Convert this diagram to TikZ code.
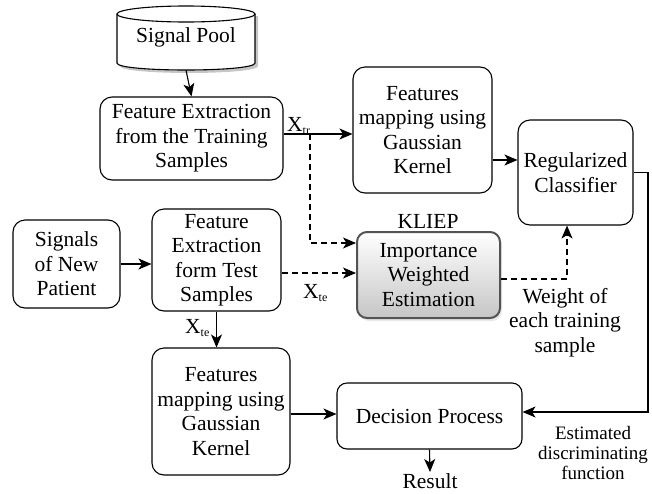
\documentclass[tikz,border=0pt]{standalone}
\usepackage{fontspec}
\setmainfont{Liberation Serif}
\usetikzlibrary{arrows.meta,shadows,calc}

\newcommand{\subx}[1]{X\raisebox{-3pt}{\fontsize{12}{12}\selectfont #1}}

\begin{document}
\begin{tikzpicture}[x=1pt,y=-1pt,
  font=\fontsize{21.5}{24.5}\selectfont,
  box/.style={draw, line width=1.1pt, rounded corners=12pt, align=center, inner sep=0pt},
  lbl/.style={inner sep=0pt, align=center},
  arr/.style={line width=1.1pt, -{Stealth[length=13pt,width=11pt,inset=3.5pt]}},
  darr/.style={arr, dash pattern=on 6pt off 4pt}]
\useasboundingbox (0,0) rectangle (652,493);

% signal pool cylinder
\fill[gray!45] (120,16) -- (120,66) .. controls (120,75.3) and (258,75.3) .. (258,66) -- (258,16) -- cycle;
\filldraw[fill=white, line width=1.1pt] (117,14) -- (117,63) .. controls (117,72.33) and (255,72.33) .. (255,63) -- (255,14);
\filldraw[fill=white, line width=1.1pt] (186,14) ellipse [x radius=69, y radius=8];
\node[lbl, minimum width=138pt, minimum height=65pt] (pool) at (186,37.5) {Signal Pool};

% process boxes
\node[box, minimum width=183pt, minimum height=83pt] (fetr) at (191.5,138.5) {Feature Extraction\\from the Training\\Samples};
\node[box, minimum width=139pt, minimum height=126pt] (fmtop) at (422.5,130) {Features\\mapping using\\Gaussian\\Kernel};
\node[box, minimum width=115pt, minimum height=105pt] (reg) at (575.5,172.5) {Regularized\\Classifier};
\node[box, draw=gray!65!black, line width=2pt, rounded corners=10pt,
      top color=white, bottom color=gray!45,
      drop shadow={shadow xshift=2pt, shadow yshift=-3pt, fill=gray!35},
      minimum width=143pt, minimum height=86pt] (imp) at (428.5,275) {Importance\\Weighted\\Estimation};
\node[box, minimum width=107pt, minimum height=88pt] (pat) at (66.5,264) {Signals\\of New\\Patient};
\node[box, minimum width=129pt, minimum height=102pt] (fete) at (216.5,260) {Feature\\Extraction\\form Test\\Samples};
\node[box, minimum width=138pt, minimum height=127pt] (fmbot) at (221,411.5) {Features\\mapping using\\Gaussian\\Kernel};
\node[box, rounded corners=10pt, minimum width=185pt, minimum height=66pt] (dec) at (429.5,416) {Decision Process};

% labels
\node[lbl, anchor=base] (klie) at (428,228) {KLIEP};
\node[lbl, anchor=base west] (xtrl) at (287,131) {\subx{tr}};
\node[lbl, anchor=base west] (xtel) at (303,298) {\subx{te}};
\node[lbl, anchor=base west] (xtel2) at (185,333) {\subx{te}};
\node[lbl, anchor=north] (wts) at (565,288) {Weight of\\each training\\sample};
\node[lbl, anchor=north, font=\fontsize{19}{20}\selectfont] (est) at (593,426) {Estimated\\discriminating\\function};
\node[lbl, anchor=base] (res) at (430,488) {Result};

% junction points of the connectors
\coordinate (xtr) at (310,134);
\coordinate (ktr) at (310,243);
\coordinate (kte) at (300,273);
\coordinate (mreg) at (500,160);
\coordinate (wout) at (567,279);
\coordinate (rout) at (648,412);
\coordinate (mdec) at (300,414);
\coordinate (rtop) at (430,472);

% connectors
\draw[arr] (pool.south) -- (fetr.north);
\draw[arr] (xtr -| fetr.east) -- (xtr -| fmtop.west);
\draw[darr] (xtr) -- (ktr) -- (ktr -| imp.west);
\draw[arr] (mreg -| fmtop.east) -- (mreg -| reg.west);
\draw[arr] (pat.east) -- (pat.east -| fete.west);
\draw[darr] (kte -| fete.east) -- (kte -| imp.west);
\draw[darr] (wout -| imp.east) -- (wout) -- (wout |- reg.south);
\draw[arr] (reg.east) -- (reg.east -| rout) -- (rout) -- (rout -| dec.east);
\draw[arr] (fete.south) -- (fete.south |- fmbot.north);
\draw[arr] (mdec -| fmbot.east) -- (mdec -| dec.west);
\draw[arr] (dec.south) -- (rtop);
\end{tikzpicture}
\end{document}
